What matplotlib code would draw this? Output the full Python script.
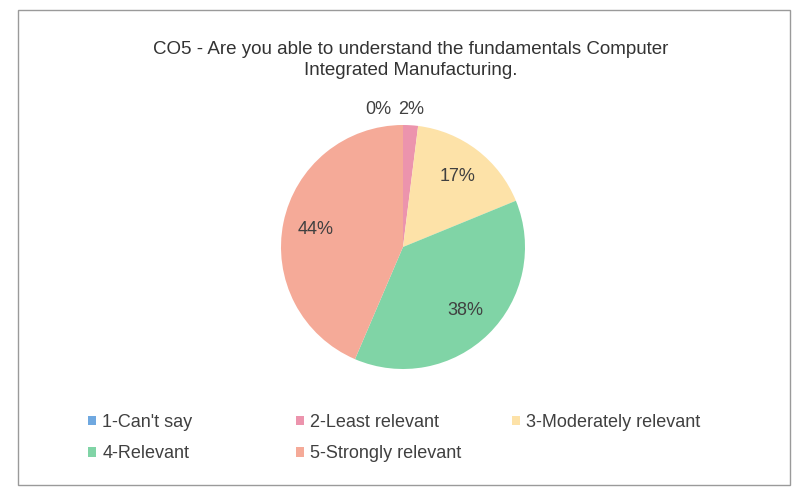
import matplotlib.pyplot as plt
import numpy as np
from matplotlib.patches import Rectangle

plt.rcParams['font.family'] = ['Liberation Sans', 'DejaVu Sans']

# 数据
categories = ['1-Can\'t say', '2-Least relevant', '3-Moderately relevant', '4-Relevant', '5-Strongly relevant']
values = [0, 2, 17, 38, 44]
colors = ['#6fa8e0', '#ec94ad', '#fde2a8', '#80d4a6', '#f5aa98']
title = 'CO5 - Are you able to understand the fundamentals Computer\nIntegrated Manufacturing.'

W, H = 803, 497
fig = plt.figure(figsize=(W / 100, H / 100), dpi=100)
fig.patch.set_facecolor('white')

# 外框
fig.add_artist(Rectangle((0.022, 0.025), 0.962, 0.955, transform=fig.transFigure,
                         fill=False, edgecolor='#9a9a9a', linewidth=1))

# 饼图: 中心约 (403, 247), 半径约 122 像素
cx, cy, r = 403, 247, 122
ax = fig.add_axes([(cx - r) / W, (H - cy - r) / H, 2 * r / W, 2 * r / H])
wedges, texts, autotexts = ax.pie(values, colors=colors, startangle=90, counterclock=False,
                                  autopct='%1.0f%%', pctdistance=0.73,
                                  textprops={'fontsize': 13, 'color': '#404040'})
ax.set_xlim(-1, 1)
ax.set_ylim(-1, 1)
ax.set_aspect('equal')

# 小扇区标签放到外面
for i, (w, t) in enumerate(zip(wedges, autotexts)):
    if values[i] < 5:
        ang = np.deg2rad((w.theta1 + w.theta2) / 2)
        x, y = 1.13 * np.cos(ang), 1.13 * np.sin(ang)
        t.set_position((x - 0.2 if values[i] == 0 else x, y))

fig.text(0.512, 1 - 60 / H, title, ha='center', va='center', fontsize=13.5, color='#333333',
         linespacing=1.25)

# 图例 (按行排列, 每列单独放置)
cols = [[0, 3], [1, 4], [2]]
xs = [88, 296, 512]
for col, x0 in zip(cols, xs):
    fig.legend([wedges[i] for i in col], [categories[i] for i in col],
               loc='upper left', bbox_to_anchor=(x0 / W, 1 - 414 / H), frameon=False, fontsize=13,
               handlelength=0.45, handleheight=0.45, handletextpad=0.35,
               labelspacing=0.8, labelcolor='#404040', borderpad=0, borderaxespad=0)

plt.savefig('out.png', dpi=100)
